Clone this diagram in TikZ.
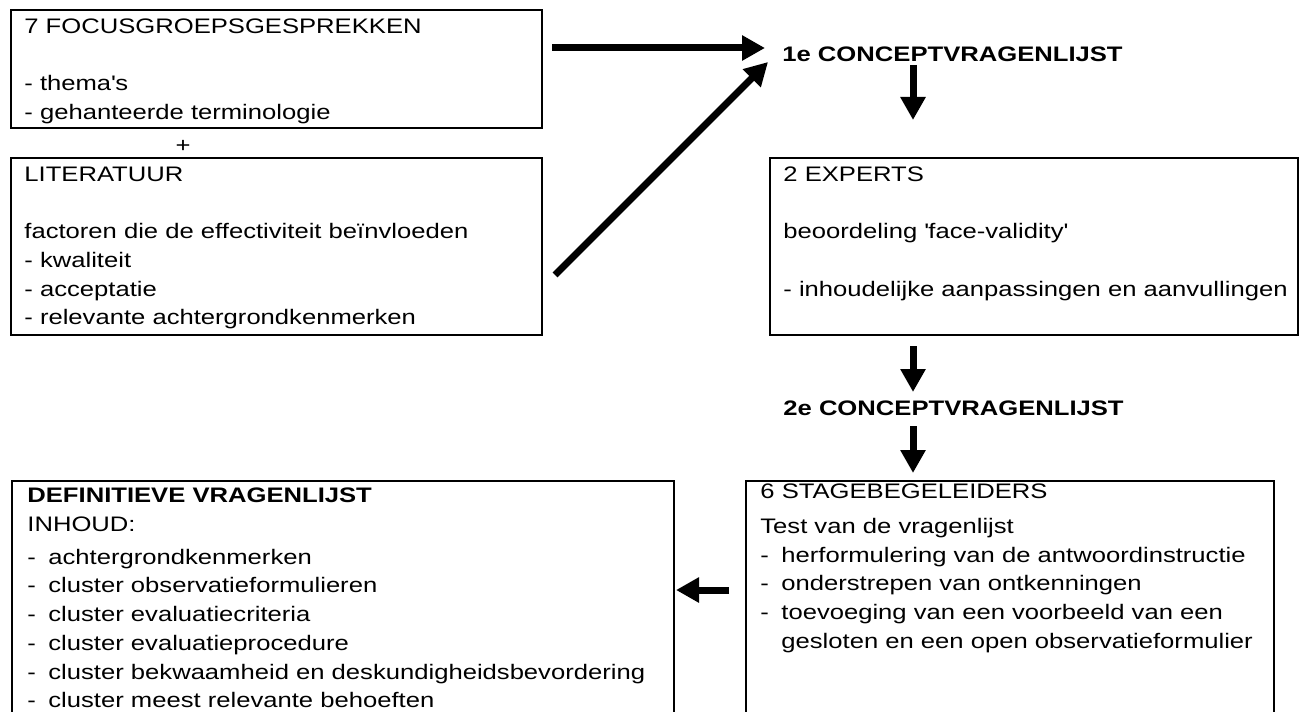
\documentclass[tikz,border=0pt]{standalone}
\usepackage{fontspec}
\setmainfont{Liberation Sans}[FakeStretch=1.22]
\usetikzlibrary{arrows.meta}
\newcommand{\boxfont}{\fontsize{10.5pt}{14.35pt}\selectfont}
\newcommand{\dashitem}{\makebox[10.5pt][l]{-}}
\newcommand{\dashindent}{\hspace*{10.5pt}}
\tikzset{box/.style = {draw, line width=1pt, inner sep=0pt, anchor=north west},
         boxtext/.style = {font=\boxfont, align=left, inner sep=0pt, anchor=north west},
         concept/.style = {font=\boxfont\bfseries, inner sep=0pt, anchor=base west},
         fat/.style = {line width=3.5pt, -{Triangle[length=11.5pt, width=12pt]}}}

\begin{document}
\begin{tikzpicture}[x=0.5pt, y=-0.5pt]
    \useasboundingbox (0, 0) rectangle (1299, 711);
    \clip (0, 0) rectangle (1299, 711);

    \node [box, minimum width=265.5pt, minimum height=59pt] (focus) at (10, 9) {};
    \node [boxtext] (focustext) at ([shift={(14, 4)}]focus.north west)
        {\strut 7 FOCUSGROEPSGESPREKKEN\\ \\- thema\textquotesingle s\\- gehanteerde terminologie};

    \node [font=\boxfont, inner sep=0pt] (plus) at (183, 146) {+};

    \node [box, minimum width=265.5pt, minimum height=88.5pt] (literatuur) at (10, 157) {};
    \node [boxtext] (literatuurtext) at ([shift={(14, 4)}]literatuur.north west)
        {\strut LITERATUUR\\ \\factoren die de effectiviteit beïnvloeden\\- kwaliteit\\- acceptatie\\- relevante achtergrondkenmerken};

    \node [concept] (concept1) at (782, 62) {1e CONCEPTVRAGENLIJST};

    \node [box, minimum width=264pt, minimum height=88.5pt] (experts) at (769, 157) {};
    \node [boxtext] (expertstext) at ([shift={(14, 4)}]experts.north west)
        {\strut 2 EXPERTS\\ \\beoordeling \textquotesingle face-validity\textquotesingle\\ \\- inhoudelijke aanpassingen en aanvullingen};

    \node [concept] (concept2) at (783, 415) {2e CONCEPTVRAGENLIJST};

    \node [box, minimum width=264pt, minimum height=120pt] (stage) at (745, 480) {};
    \node [boxtext] (stagetext) at ([shift={(15, -2)}]stage.north west)
        {\strut 6 STAGEBEGELEIDERS\\[3.15pt]Test van de vragenlijst\\\dashitem herformulering van de antwoordinstructie\\\dashitem onderstrepen van ontkenningen\\\dashitem toevoeging van een voorbeeld van een\\\dashindent gesloten en een open observatieformulier};

    \node [box, minimum width=331pt, minimum height=120pt] (definitief) at (11, 480) {};
    \node [boxtext] (definitieftext) at ([shift={(16, 2)}]definitief.north west)
        {\strut\textbf{DEFINITIEVE VRAGENLIJST}\\INHOUD:\\[2.2pt]\dashitem achtergrondkenmerken\\\dashitem cluster observatieformulieren\\\dashitem cluster evaluatiecriteria\\\dashitem cluster evaluatieprocedure\\\dashitem cluster bekwaamheid en deskundigheidsbevordering\\\dashitem cluster meest relevante behoeften};

    \draw [fat] ([shift={(9, 39)}]focus.north east) -- ([shift={(-17, -14)}]concept1.base west);
    \draw [fat] ([shift={(12, 118)}]literatuur.north east) -- ([shift={(-14, 0)}]concept1.base west);
    \draw [fat] ([shift={(131, 3)}]concept1.base west) -- ([shift={(144, -37)}]experts.north west);
    \draw [fat] ([shift={(144, 10)}]experts.south west) -- ([shift={(130, -23)}]concept2.base west);
    \draw [fat] ([shift={(130, 11)}]concept2.base west) -- ([shift={(168, -7)}]stage.north west);
    \draw [fat] ([shift={(-16, 110)}]stage.north west) -- ([shift={(1, 110)}]definitief.north east);
\end{tikzpicture}
\end{document}
